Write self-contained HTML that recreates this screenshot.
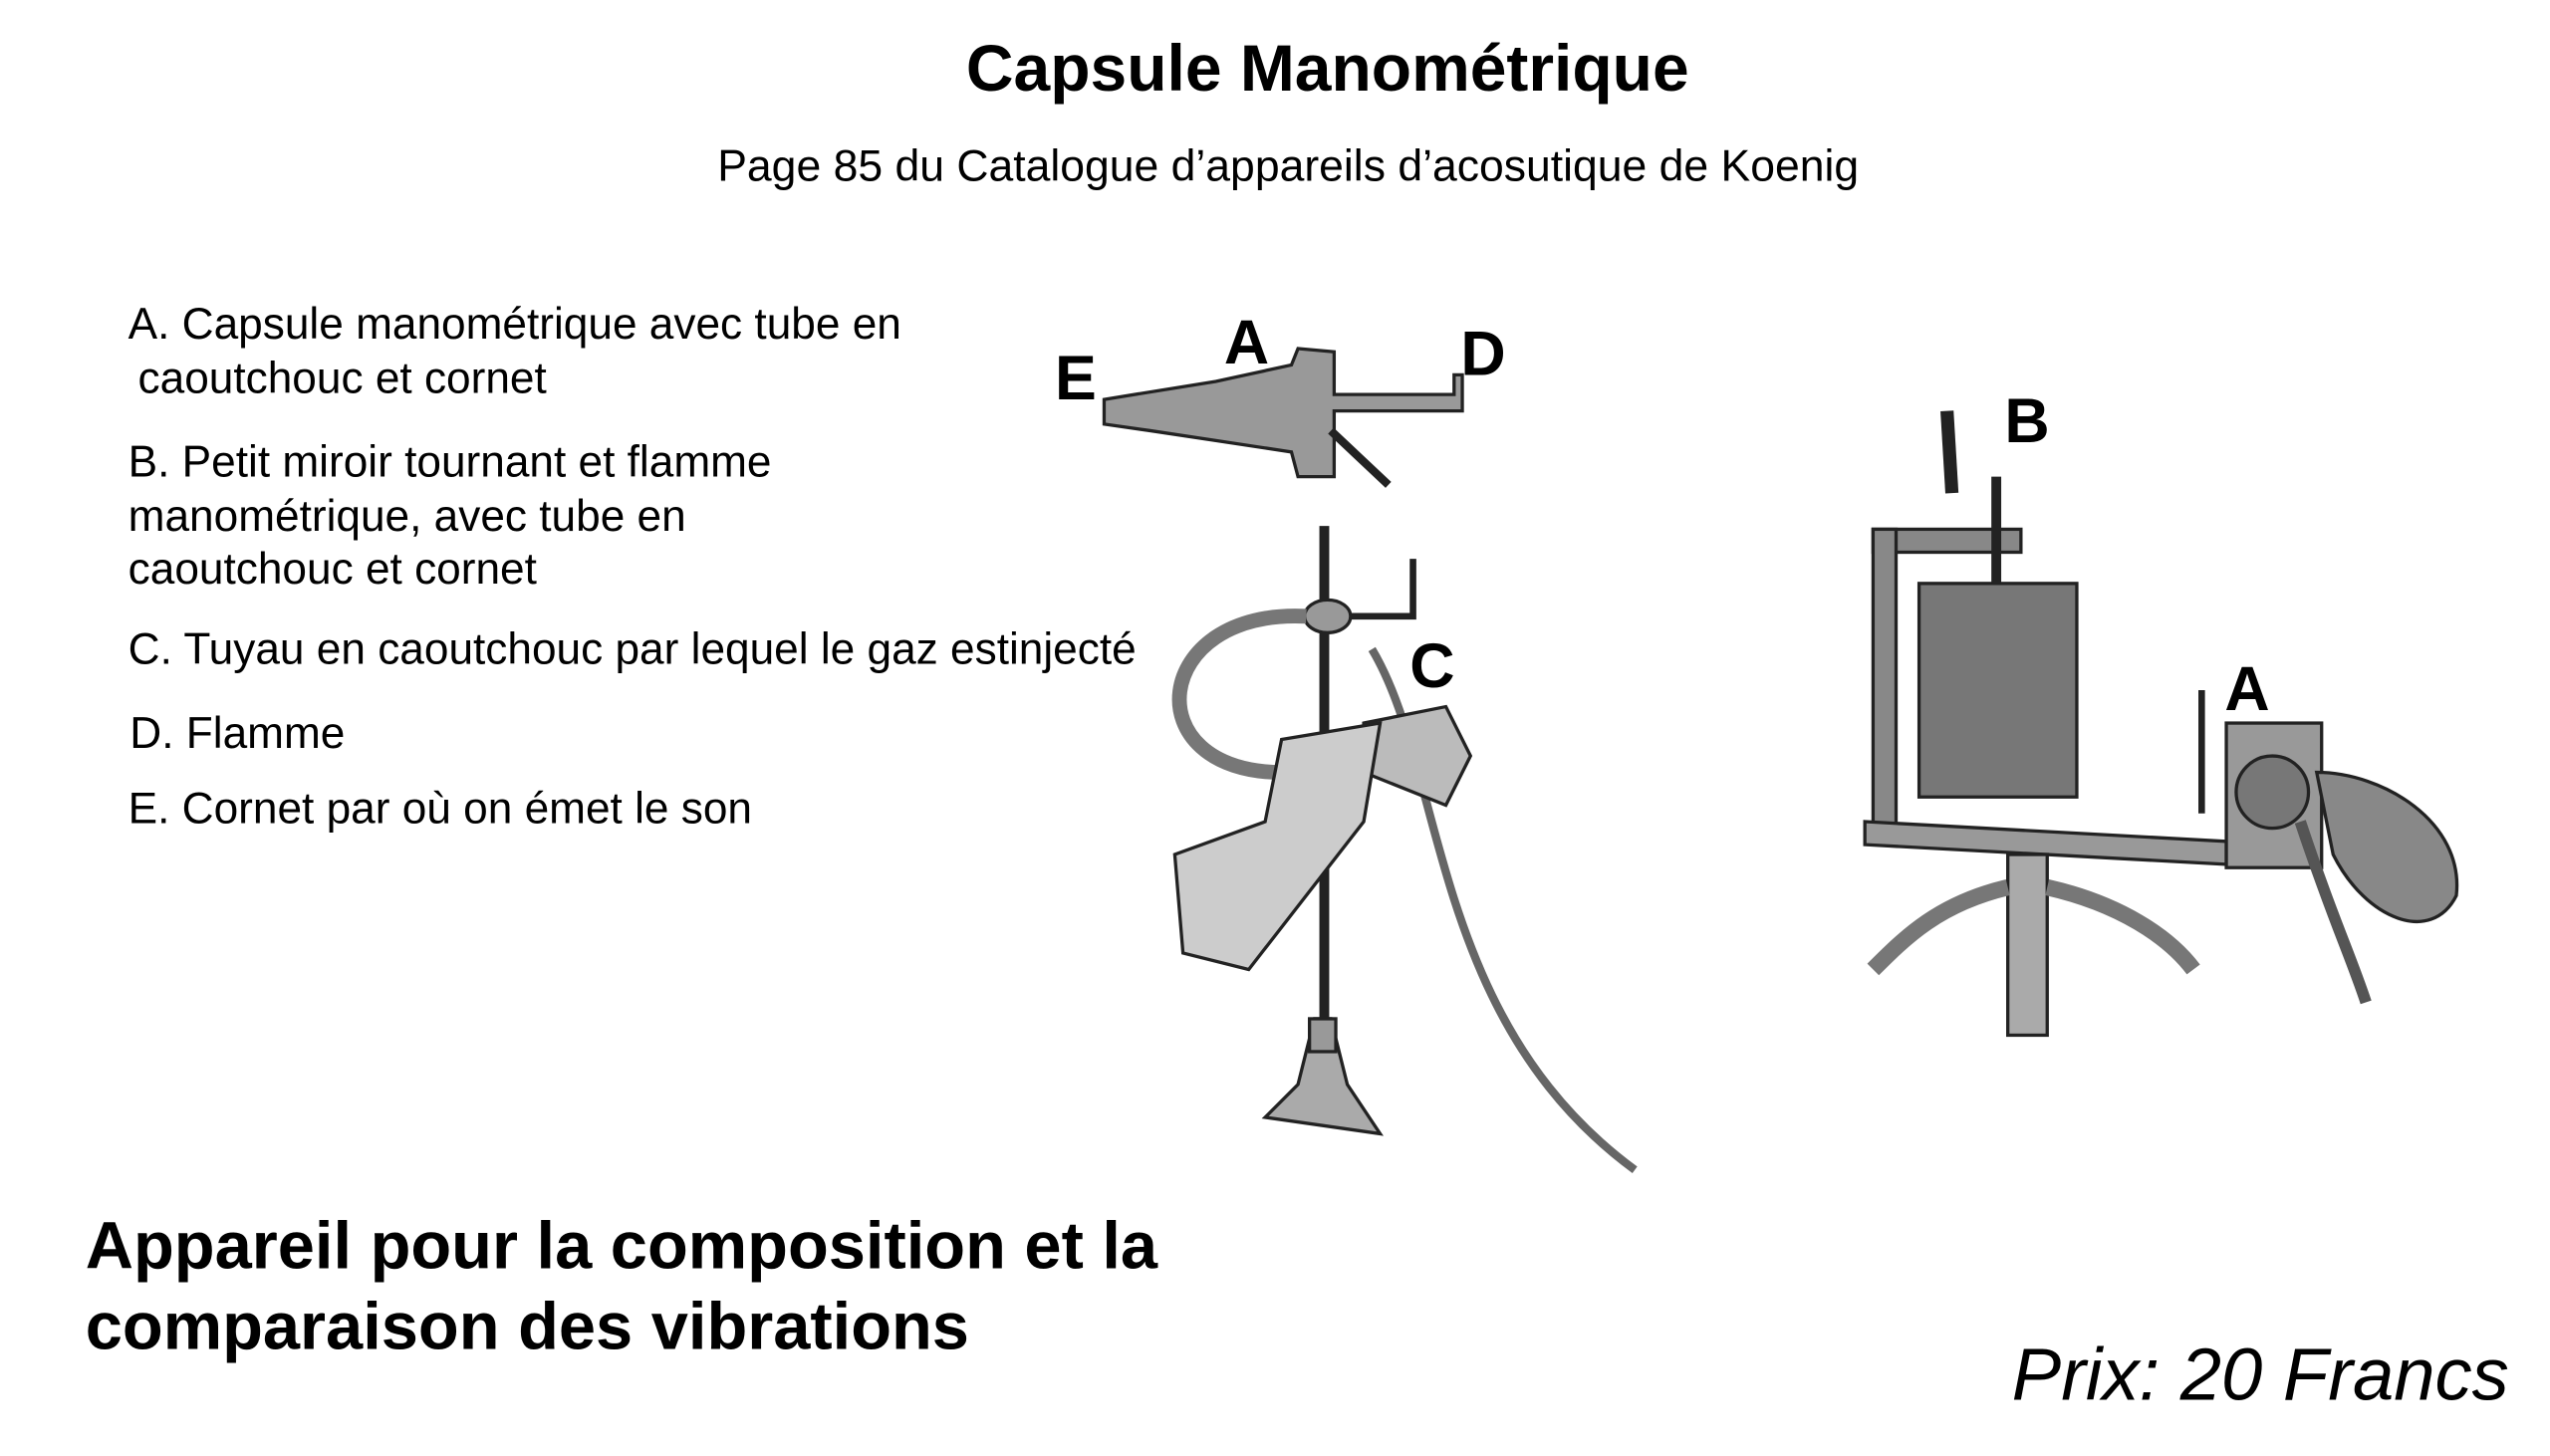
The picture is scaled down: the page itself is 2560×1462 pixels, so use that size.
<!DOCTYPE html>
<html><head><meta charset="utf-8"><style>
html,body{margin:0;padding:0;background:#fff;}
svg{display:block;}
text{font-family:"Liberation Sans",sans-serif;fill:#000;}
</style></head><body>
<svg width="2560" height="1462" viewBox="0 0 1552 886" xmlns="http://www.w3.org/2000/svg">
<rect width="1552" height="886" fill="#fff"/>
<text x="808" y="55" font-size="40" font-weight="bold" text-anchor="middle">Capsule Manométrique</text>
<text x="784" y="110" font-size="27" text-anchor="middle">Page 85 du Catalogue d’appareils d’acosutique de Koenig</text>
<g font-size="26.8">
<text x="78" y="206">A. Capsule manométrique avec tube en</text>
<text x="84" y="239">caoutchouc et cornet</text>
<text x="78" y="290">B. Petit miroir tournant et flamme</text>
<text x="78" y="323">manométrique, avec tube en</text>
<text x="78" y="355">caoutchouc et cornet</text>
<text x="78" y="404">C. Tuyau en caoutchouc par lequel le gaz estinjecté</text>
<text x="79" y="455">D. Flamme</text>
<text x="78" y="501">E. Cornet par où on émet le son</text>
</g>
<text x="52" y="772" font-size="40.5" font-weight="bold">Appareil pour la composition et la</text>
<text x="52" y="821" font-size="40.5" font-weight="bold">comparaison des vibrations</text>
<text x="1527" y="852" font-size="45" font-style="italic" text-anchor="end">Prix: 20 Francs</text>
<g font-size="38" font-weight="bold">
<text x="642" y="243">E</text><text x="745" y="221">A</text><text x="889" y="228">D</text>
<text x="858" y="418">C</text><text x="1220" y="269">B</text><text x="1354" y="432">A</text>
</g>
<g stroke="#222" stroke-width="2" fill="#999">
<path d="M672 243 L740 232 L786 222 L790 212 L812 214 L812 240 L885 240 L885 228 L890 228 L890 250 L812 250 L812 290 L790 290 L786 275 L740 268 L700 262 L672 258 Z"/>
<path d="M810 262 L845 295" stroke-width="5"/>
<path d="M800 620 L790 660 L770 680 L840 690 L820 660 L810 620 Z" fill="#aaa"/>
<rect x="797" y="620" width="16" height="20"/>
<line x1="806" y1="320" x2="806" y2="620" stroke-width="6"/>
<path d="M860 340 L860 375 L805 375" fill="none" stroke-width="4"/>
<ellipse cx="808" cy="375" rx="14" ry="10"/>
<path d="M795 375 C700 370 690 470 780 470" fill="none" stroke="#777" stroke-width="9"/>
<path d="M835 395 C880 470 870 620 995 712" fill="none" stroke="#666" stroke-width="5"/>
<path d="M830 440 L880 430 L895 460 L880 490 L830 470 Z" fill="#bbb"/>
<path d="M780 450 L840 440 L830 500 L760 590 L720 580 L715 520 L770 500 Z" fill="#ccc"/>
<rect x="1140" y="322" width="90" height="14" fill="#888"/>
<rect x="1140" y="322" width="14" height="180" fill="#888"/>
<rect x="1168" y="355" width="96" height="130" fill="#777"/>
<line x1="1215" y1="290" x2="1215" y2="355" stroke-width="6"/>
<path d="M1185 250 L1188 300" stroke-width="8"/>
<path d="M1135 500 L1355 512 L1355 526 L1135 514 Z" fill="#999"/>
<rect x="1355" y="440" width="58" height="88" fill="#999"/>
<circle cx="1383" cy="482" r="22" fill="#777"/>
<path d="M1410 470 C1450 470 1500 500 1495 545 C1480 575 1440 560 1420 520 Z" fill="#888"/>
<path d="M1400 500 C1420 560 1430 580 1440 610" fill="none" stroke="#555" stroke-width="7"/>
<rect x="1222" y="520" width="24" height="110" fill="#aaa"/>
<path d="M1222 540 C1180 550 1160 570 1140 590 M1246 540 C1290 550 1320 570 1335 590" fill="none" stroke-width="10" stroke="#777"/>
<line x1="1340" y1="420" x2="1340" y2="495" stroke-width="4"/>
</g>
</svg>
</body></html>
